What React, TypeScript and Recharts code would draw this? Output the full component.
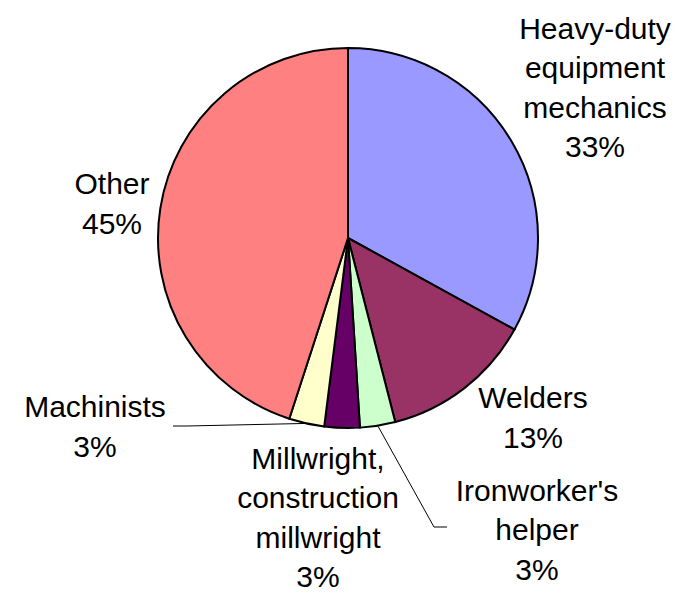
import { PieChart, Pie, Cell } from "recharts";

const categories = [
  "Heavy-duty equipment mechanics",
  "Welders",
  "Ironworker's helper",
  "Millwright, construction millwright",
  "Machinists",
  "Other",
];
const shares = [33, 13, 3, 3, 3, 45];
const labelLines = [
  ["Heavy-duty", "equipment", "mechanics"],
  ["Welders"],
  ["Ironworker's", "helper"],
  ["Millwright,", "construction", "millwright"],
  ["Machinists"],
  ["Other"],
];
const COLORS = ["#9999FF", "#993366", "#CCFFCC", "#660066", "#FFFFCC", "#FF8080"];

// label block centre relative to pie centre, optional leader elbow + end
const LABEL_POS: { dx: number; dy: number; leader?: [number, number][] }[] = [
  { dx: 247, dy: -151 },
  { dx: 185, dy: 179 },
  { dx: 189, dy: 291, leader: [[86, 289], [99, 289]] },
  { dx: -30, dy: 279 },
  { dx: -253, dy: 188, leader: [[-161, 188], [-175, 188]] },
  { dx: -236, dy: -35 },
];

const data = categories.map((name, i) => ({ name, value: shares[i] }));

const MARGIN = { top: 0, right: 0, bottom: 0, left: 0 };
const LINE_H = 39.5;
const RAD = Math.PI / 180;

function renderLabel(props: any) {
  const { cx, cy, midAngle, outerRadius, index, value } = props;
  const pos = LABEL_POS[index];
  const lines = [...labelLines[index], `${value}%`];
  const x = cx + pos.dx;
  const y0 = cy + pos.dy - ((lines.length - 1) * LINE_H) / 2;
  let leader = null;
  if (pos.leader) {
    const sx = cx + outerRadius * Math.cos(-midAngle * RAD);
    const sy = cy + outerRadius * Math.sin(-midAngle * RAD);
    const pts = [[sx, sy], ...pos.leader.map(([a, b]) => [cx + a, cy + b])];
    leader = (
      <polyline
        points={pts.map((p) => p.join(",")).join(" ")}
        fill="none"
        stroke="#000"
        strokeWidth={1}
      />
    );
  }
  return (
    <g key={`lbl-${index}`}>
      {leader}
      <text
        x={x}
        y={y0}
        textAnchor="middle"
        dominantBaseline="central"
        fontFamily="'Liberation Sans', Arial, sans-serif"
        fontSize={30}
        fill="#000"
      >
        {lines.map((t, i) => (
          <tspan key={i} x={x} y={y0 + i * LINE_H}>
            {t}
          </tspan>
        ))}
      </text>
    </g>
  );
}

export default function App() {
  return (
    <div style={{ position: "absolute", left: 0, top: 0, width: 690, height: 594, background: "#fff" }}>
      <PieChart width={690} height={594} margin={MARGIN}>
        <Pie
          data={data}
          dataKey="value"
          nameKey="name"
          cx={348}
          cy={238}
          outerRadius={190}
          startAngle={90}
          endAngle={-270}
          stroke="#000"
          strokeWidth={2}
          label={renderLabel}
          labelLine={false}
          isAnimationActive={false}
        >
          {data.map((_, i) => (
            <Cell key={i} fill={COLORS[i]} />
          ))}
        </Pie>
      </PieChart>
    </div>
  );
}
